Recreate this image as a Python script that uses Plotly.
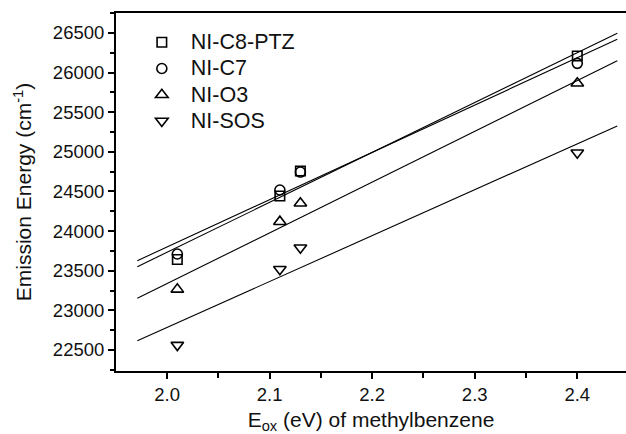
import plotly.graph_objects as go

# Data
x_vals = [2.01, 2.11, 2.13, 2.40]
series_names = ["NI-C8-PTZ", "NI-C7", "NI-O3", "NI-SOS"]
y_c8ptz = [23642, 24443, 24758, 26210]
y_c7 = [23711, 24519, 24745, 26117]
y_o3 = [23265, 24119, 24351, 25865]
y_sos = [22562, 23518, 23790, 24989]

# Linear-fit lines (endpoints)
fit_x = [1.971, 2.439]
fit_c8ptz = [23551, 26496]
fit_c7 = [23627, 26420]
fit_o3 = [23152, 26150]
fit_sos = [22617, 25327]

x_tickvals = [2.0, 2.1, 2.2, 2.3, 2.4]
y_tickvals = [22500, 23000, 23500, 24000, 24500, 25000, 25500, 26000, 26500]

FONT = "Liberation Sans, Arial, sans-serif"

symbols = ["square-open", "circle-open", "triangle-up-open", "triangle-down-open"]
sizes = [9.5, 10, 11, 11]
ys = [y_c8ptz, y_c7, y_o3, y_sos]
fits = [fit_c8ptz, fit_c7, fit_o3, fit_sos]

fig = go.Figure()

for f in fits:
    fig.add_trace(go.Scatter(
        x=fit_x, y=f, mode="lines",
        line=dict(color="black", width=1.1),
        showlegend=False, hoverinfo="skip"))

for name, y, sym, sz in zip(series_names, ys, symbols, sizes):
    fig.add_trace(go.Scatter(
        x=x_vals, y=y, mode="markers",
        name=f'<span style="font-size:21.5px">{name}</span>',
        marker=dict(symbol=sym, size=sz, color="black",
                    line=dict(color="black", width=1.6))))

fig.update_layout(
    width=626, height=434,
    margin=dict(l=116, r=0, t=13, b=63),
    paper_bgcolor="white", plot_bgcolor="white",
    font=dict(family=FONT, color="#111", size=18),
    showlegend=True,
    legend=dict(
        x=0.033, y=0.969, xanchor="left", yanchor="top",
        bgcolor="rgba(0,0,0,0)", borderwidth=0,
        font=dict(family=FONT, size=17.9, color="#111"),
        itemwidth=48, tracegroupgap=0,
    ),
)

fig.update_xaxes(
    range=[1.9502, 2.4475],
    tickvals=x_tickvals, ticktext=[f"{v:.1f}" for v in x_tickvals],
    ticks="outside", ticklen=6, tickwidth=1.5, tickcolor="black",
    minor=dict(dtick=0.05, tick0=2.0, ticks="outside", ticklen=5, tickwidth=1.5, tickcolor="black"),
    showline=True, linecolor="black", linewidth=2, mirror=True,
    showgrid=False, zeroline=False,
    tickfont=dict(size=18.5, family=FONT, color="#111"),
    title=dict(text="E<sub>ox</sub> (eV) of methylbenzene",
               font=dict(size=21, family=FONT, color="#111"), standoff=8),
)

fig.update_yaxes(
    range=[22235, 26752],
    tickvals=y_tickvals, ticktext=[str(v) for v in y_tickvals],
    ticks="outside", ticklen=6, tickwidth=1.5, tickcolor="black",
    minor=dict(dtick=250, tick0=22500, ticks="outside", ticklen=4, tickwidth=1.5, tickcolor="black"),
    showline=True, linecolor="black", linewidth=2, mirror=False,
    showgrid=False, zeroline=False,
    tickfont=dict(size=18.5, family=FONT, color="#111"),
    title=dict(text="Emission Energy (cm<sup>-1</sup>)",
               font=dict(size=21, family=FONT, color="#111"), standoff=15),
)

fig.write_html("out.html", config={"displayModeBar": False},
               post_script="document.body.style.margin='0';document.body.style.overflow='hidden';")
